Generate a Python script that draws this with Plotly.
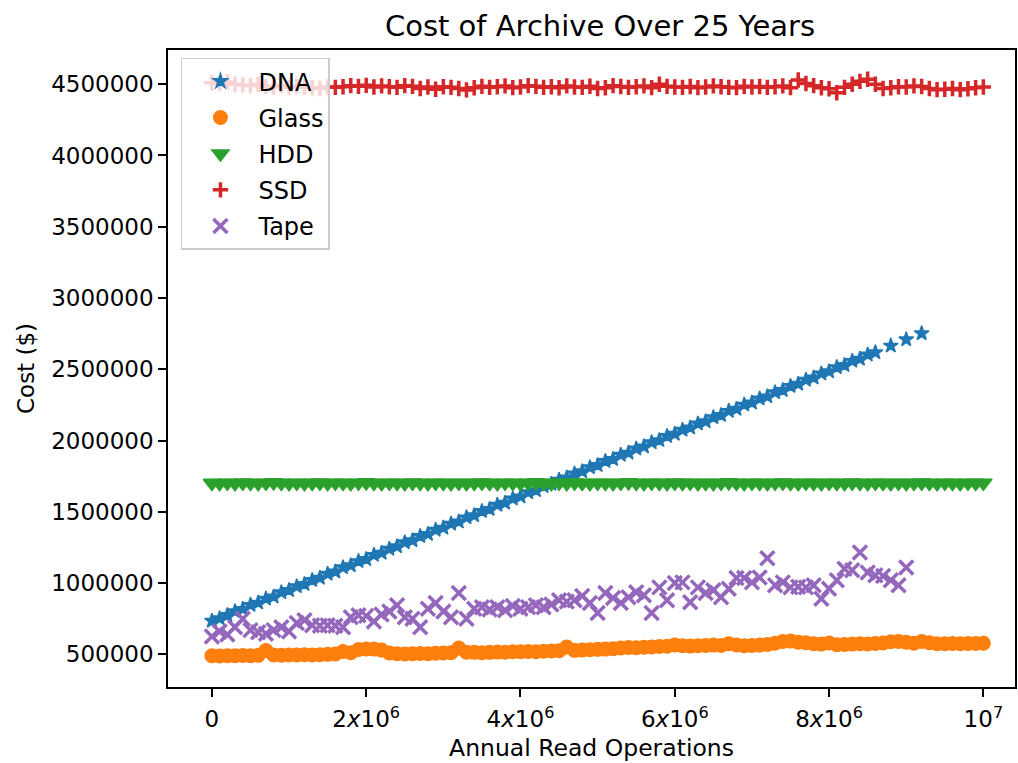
import plotly.graph_objects as go

# Annual read operations (x) and 25-year cost in dollars (y) for each medium
dna_reads = [i * 100000 for i in range(87)] + [8800000, 9000000, 9200000]
dna_cost = [
    735000, 752000, 775000, 801000, 818000, 846000, 862000, 890000, 905000, 934000,
    950000, 977000, 992000, 1021000, 1036000, 1065000, 1080000, 1110000, 1124000, 1153000,
    1168000, 1197000, 1212000, 1240000, 1257000, 1285000, 1300000, 1329000, 1344000, 1373000,
    1388000, 1416000, 1431000, 1460000, 1475000, 1504000, 1519000, 1548000, 1563000, 1592000,
    1607000, 1636000, 1651000, 1680000, 1695000, 1724000, 1739000, 1768000, 1783000, 1812000,
    1827000, 1855000, 1870000, 1899000, 1914000, 1943000, 1958000, 1987000, 2002000, 2031000,
    2046000, 2075000, 2090000, 2119000, 2134000, 2163000, 2178000, 2207000, 2222000, 2251000,
    2266000, 2294000, 2309000, 2338000, 2353000, 2382000, 2397000, 2426000, 2441000, 2470000,
    2485000, 2514000, 2529000, 2558000, 2573000, 2602000, 2618000, 2665000, 2709000, 2752000,
]

glass_reads = [i * 100000 for i in range(101)]
glass_cost = [
    490000, 489000, 491000, 490000, 492000, 491000, 493000, 527000, 495000, 494000,
    496000, 495000, 497000, 496000, 498000, 500000, 502000, 520000, 512000, 534000,
    538000, 537000, 530000, 510000, 505000, 503000, 504000, 506000, 505000, 508000,
    510000, 512000, 544000, 515000, 514000, 512000, 514000, 516000, 515000, 518000,
    519000, 520000, 518000, 522000, 524000, 526000, 551000, 528000, 530000, 532000,
    535000, 537000, 540000, 545000, 548000, 546000, 550000, 552000, 555000, 557000,
    566000, 560000, 558000, 561000, 563000, 565000, 562000, 575000, 566000, 560000,
    562000, 565000, 570000, 578000, 590000, 593000, 585000, 582000, 575000, 572000,
    580000, 568000, 570000, 572000, 575000, 573000, 576000, 580000, 588000, 590000,
    585000, 578000, 590000, 582000, 575000, 574000, 576000, 575000, 576000, 577000,
    578000,
]

hdd_reads = [i * 100000 for i in range(101)]
hdd_cost = [
    1702000, 1700000, 1703000, 1701000, 1704000, 1702000, 1700000, 1703000, 1705000, 1702000,
    1701000, 1703000, 1700000, 1702000, 1704000, 1701000, 1703000, 1702000, 1700000, 1703000,
    1705000, 1702000, 1701000, 1703000, 1702000, 1700000, 1704000, 1702000, 1701000, 1703000,
    1702000, 1700000, 1703000, 1701000, 1702000, 1704000, 1702000, 1700000, 1703000, 1702000,
    1701000, 1703000, 1705000, 1702000, 1700000, 1703000, 1701000, 1704000, 1702000, 1700000,
    1703000, 1702000, 1701000, 1703000, 1705000, 1702000, 1700000, 1703000, 1702000, 1701000,
    1704000, 1702000, 1703000, 1700000, 1702000, 1701000, 1703000, 1705000, 1702000, 1700000,
    1703000, 1702000, 1701000, 1703000, 1704000, 1702000, 1700000, 1703000, 1702000, 1701000,
    1703000, 1702000, 1700000, 1704000, 1702000, 1701000, 1703000, 1702000, 1700000, 1703000,
    1701000, 1702000, 1704000, 1702000, 1700000, 1703000, 1702000, 1701000, 1703000, 1702000,
    1703000,
]

ssd_reads = [i * 100000 for i in range(101)]
ssd_cost = [
    4510000, 4505000, 4515000, 4500000, 4495000, 4490000, 4500000, 4485000, 4480000, 4490000,
    4478000, 4485000, 4480000, 4475000, 4470000, 4480000, 4478000, 4482000, 4490000, 4485000,
    4492000, 4480000, 4488000, 4482000, 4478000, 4490000, 4485000, 4470000, 4480000, 4465000,
    4482000, 4478000, 4470000, 4460000, 4475000, 4485000, 4478000, 4482000, 4488000, 4476000,
    4480000, 4490000, 4485000, 4478000, 4482000, 4475000, 4488000, 4480000, 4478000, 4486000,
    4470000, 4475000, 4490000, 4484000, 4478000, 4482000, 4488000, 4476000, 4500000, 4485000,
    4480000, 4478000, 4484000, 4476000, 4480000, 4488000, 4482000, 4478000, 4476000, 4485000,
    4480000, 4484000, 4478000, 4482000, 4488000, 4476000, 4530000, 4505000, 4490000, 4475000,
    4468000, 4440000, 4478000, 4500000, 4520000, 4535000, 4500000, 4470000, 4475000, 4482000,
    4480000, 4488000, 4484000, 4470000, 4462000, 4465000, 4470000, 4462000, 4468000, 4475000,
    4480000,
]

tape_reads = [i * 100000 for i in range(91)]
tape_cost = [
    625000, 660000, 640000, 690000, 750000, 670000, 655000, 645000, 670000, 690000,
    660000, 720000, 740000, 705000, 700000, 705000, 700000, 690000, 760000, 775000,
    770000, 730000, 780000, 800000, 845000, 760000, 750000, 690000, 820000, 860000,
    800000, 760000, 930000, 750000, 820000, 830000, 815000, 830000, 810000, 840000,
    820000, 830000, 845000, 830000, 850000, 880000, 870000, 880000, 910000, 860000,
    790000, 930000, 895000, 860000, 900000, 935000, 915000, 790000, 970000, 880000,
    1000000, 1005000, 865000, 970000, 930000, 950000, 900000, 960000, 1035000, 1035000,
    1005000, 1040000, 1175000, 985000, 1005000, 970000, 975000, 970000, 985000, 890000,
    960000, 1020000, 1100000, 1090000, 1215000, 1075000, 1055000, 1050000, 1020000, 985000,
    1110000,
]

x_tick_vals = [0, 2000000, 4000000, 6000000, 8000000, 10000000]
x_tick_text = ["0", "2<i>x</i>10<sup>6</sup>", "4<i>x</i>10<sup>6</sup>",
               "6<i>x</i>10<sup>6</sup>", "8<i>x</i>10<sup>6</sup>", "10<sup>7</sup>"]
y_tick_vals = [500000, 1000000, 1500000, 2000000, 2500000, 3000000, 3500000, 4000000, 4500000]

FONT = "DejaVu Sans"

fig = go.Figure()

fig.add_trace(go.Scatter(
    x=dna_reads, y=dna_cost, mode="markers", name="DNA", legendgroup="dna",
    marker=dict(symbol="star", size=11, color="#1f77b4",
                line=dict(width=1.5, color="#1f77b4")),
))
fig.add_trace(go.Scatter(
    x=glass_reads, y=glass_cost, mode="markers", name="Glass", legendgroup="glass",
    marker=dict(symbol="circle", size=13, color="#ff7f0e",
                line=dict(width=2, color="#ff7f0e")),
))
fig.add_trace(go.Scatter(
    x=hdd_reads, y=hdd_cost, mode="markers", name="HDD", legendgroup="hdd",
    marker=dict(symbol="triangle-down", size=15, color="#2ca02c",
                line=dict(width=1.5, color="#2ca02c")),
))
fig.add_trace(go.Scatter(
    x=ssd_reads, y=ssd_cost, mode="markers", name="SSD", legendgroup="ssd",
    marker=dict(symbol="cross-thin", size=11, color="#d62728",
                line=dict(width=3.5, color="#d62728")),
))
fig.add_trace(go.Scatter(
    x=tape_reads, y=tape_cost, mode="markers", name="Tape", legendgroup="tape",
    marker=dict(symbol="x-thin", size=14, color="#9467bd",
                line=dict(width=3.5, color="#9467bd")),
))

axis_common = dict(
    showgrid=False, zeroline=False, showline=True, mirror=True,
    linecolor="black", linewidth=1.6, ticks="outside", ticklen=8,
    tickwidth=1.6, tickcolor="black",
    tickfont=dict(family=FONT, size=23, color="black"),
)

fig.update_layout(
    width=1018, height=763,
    margin=dict(l=168, r=1, t=50, b=76, pad=0),
    paper_bgcolor="white", plot_bgcolor="white",
    font=dict(family=FONT, color="black"),
    title=dict(text="Cost of Archive Over 25 Years", x=0.5894, xanchor="center",
               y=1 - 26 / 763, yanchor="middle", yref="container",
               font=dict(family=FONT, size=29, color="black")),
    xaxis=dict(
        range=[-569000, 10410000], tickmode="array",
        tickvals=x_tick_vals, ticktext=x_tick_text, ticklabelstandoff=3,
        title=dict(text="Annual Read Operations", standoff=8,
                   font=dict(family=FONT, size=23.5, color="black")),
        **axis_common,
    ),
    yaxis=dict(
        range=[271000, 4740000], tickmode="array",
        tickvals=y_tick_vals, ticktext=[str(v) for v in y_tick_vals],
        title=dict(text="Cost ($)", standoff=10,
                   font=dict(family=FONT, size=23, color="black")),
        **axis_common,
    ),
    legend=dict(
        x=0.0153, y=0.988, xanchor="left", yanchor="top",
        bgcolor="rgba(255,255,255,0.8)", bordercolor="#cccccc", borderwidth=1.5,
        font=dict(family=FONT, size=24, color="black"),
        itemwidth=66, tracegroupgap=2,
    ),
    showlegend=True,
)

fig.write_html("out.html")
